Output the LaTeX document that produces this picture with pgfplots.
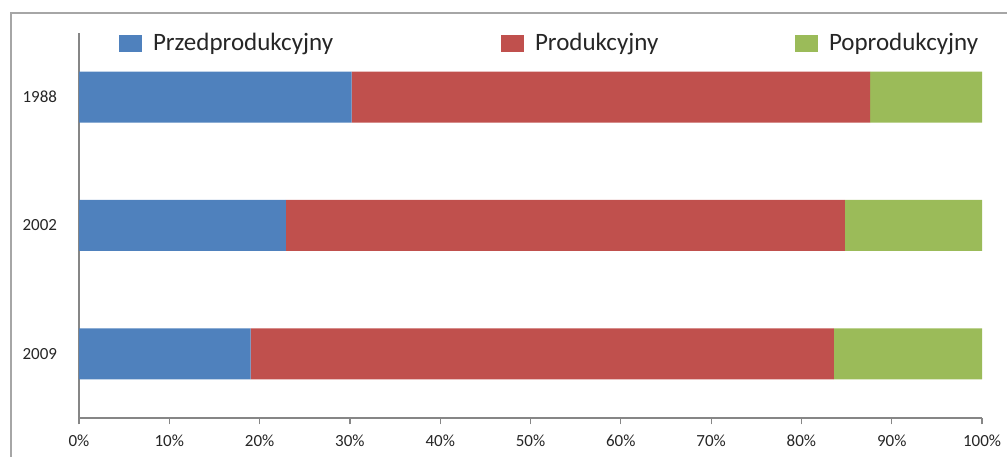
\documentclass[border=0pt]{standalone}
\usepackage{fontspec}
\setmainfont{Carlito}
\usepackage{pgfplots}
\pgfplotsset{compat=1.18}
\definecolor{cPre}{HTML}{4F81BD}
\definecolor{cProd}{HTML}{C0504D}
\definecolor{cPost}{HTML}{9BBB59}
\definecolor{axgray}{HTML}{868686}
\definecolor{framegray}{HTML}{A6A6A6}
\definecolor{txt}{HTML}{262626}
\begin{document}
\begin{tikzpicture}[x=1bp,y=1bp]
\useasboundingbox (0,0) rectangle (1007,457);
% outer chart frame
\draw[framegray, line width=1.6bp] (11,-3) -- (11,444) -- (1010,444);
\begin{axis}[
  at={(79bp,39bp)}, anchor=south west,
  scale only axis, width=903bp, height=385bp,
  xbar stacked, bar width=51bp,
  xmin=0, xmax=100, ymin=0.5, ymax=3.5,
  axis x line*=bottom, axis y line*=left,
  axis line style={axgray, line width=1.2bp},
  every tick/.style={axgray, line width=1.2bp},
  tick align=outside,
  major tick length=6.5bp,
  xtick={0,10,...,100},
  xticklabel={\pgfmathprintnumber{\tick}\%},
  ytick={1,2,3}, yticklabels={2009,2002,1988},
  ytick style={draw=none},
  extra y ticks={0.5,1.5,2.5,3.5}, extra y tick labels={},
  extra y tick style={tick style={axgray, line width=1.2bp}},
  /pgf/number format/assume math mode=true,
  tick label style={font=\fontsize{17bp}{20bp}\selectfont, text=txt},
  yticklabel style={xshift=-12bp},
  xticklabel style={yshift=-7bp},
  legend columns=3,
  legend style={draw=none, fill=none, inner sep=0pt, outer sep=0pt,
    at={(0.0443,0.974)}, anchor=west,
    font=\fontsize{25bp}{29bp}\selectfont, text=txt,
    nodes={inner sep=0pt},
    /tikz/every odd column/.append style={column sep=11bp},
    /tikz/every even column/.append style={column sep=0pt}},
  legend image code/.code={\fill[#1,draw=none] (0bp,-8.5bp) rectangle (23bp,8.5bp);},
]
\addplot[fill=cPre, draw=none] coordinates {(19.0,1) (22.9,2) (30.2,3)};
\addplot[fill=cProd, draw=none] coordinates {(64.6,1) (61.9,2) (57.4,3)};
\addplot[fill=cPost, draw=none] coordinates {(16.4,1) (15.2,2) (12.4,3)};
\legend{\makebox[348bp][l]{Przedprodukcyjny},\makebox[260bp][l]{Produkcyjny},Poprodukcyjny}
\end{axis}
\end{tikzpicture}
\end{document}
